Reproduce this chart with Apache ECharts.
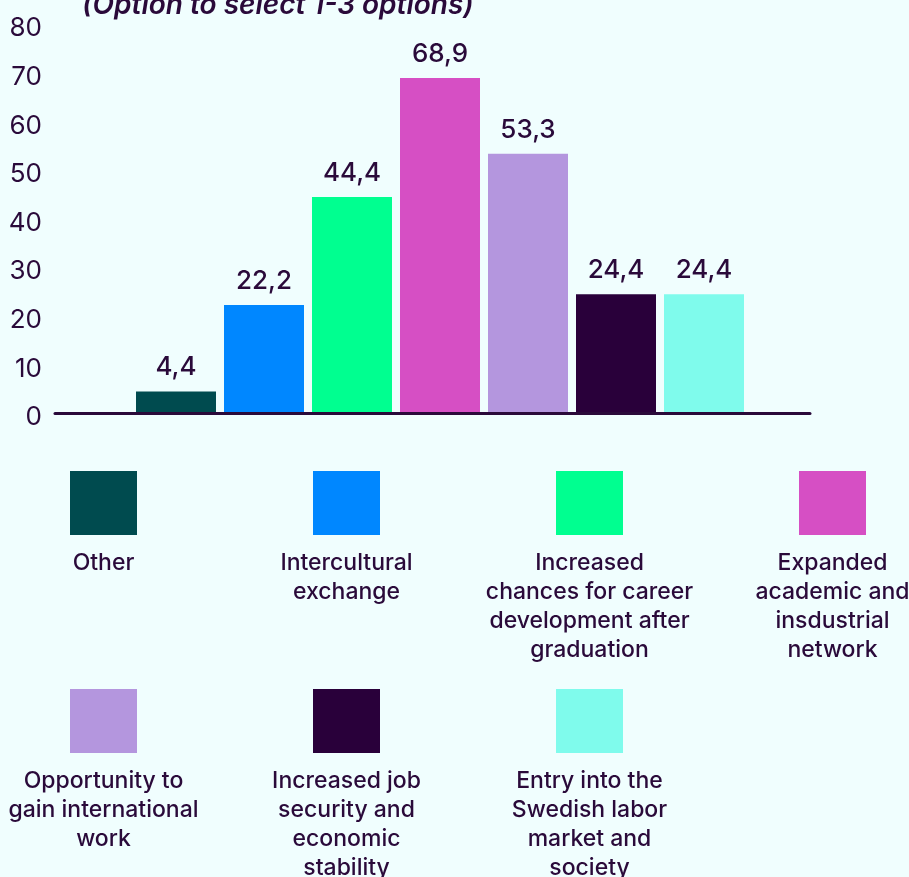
<!DOCTYPE html>
<html>
<head>
<meta charset="utf-8">
<title>Expected benefits</title>
<script src="https://cdn.jsdelivr.net/npm/echarts@6/dist/echarts.min.js"></script>
<style>
  html, body { margin: 0; padding: 0; background: #f0fefe; overflow: hidden; }
  #chart { position: absolute; left: -40px; top: -40px; width: 989px; height: 917px; }
</style>
</head>
<body>
<div id="chart"></div>
<script>
// Answer options (line breaks are where the legend wraps them)
const optionNames = [
  'Other',
  'Intercultural\nexchange',
  'Increased\nchances for career\ndevelopment after\ngraduation',
  'Expanded\nacademic and\ninsdustrial\nnetwork',
  'Opportunity to\ngain international\nwork',
  'Increased job\nsecurity and\neconomic\nstability',
  'Entry into the\nSwedish labor\nmarket and\nsociety'
];
// Share of respondents choosing each option (%)
const optionValues = [4.4, 22.2, 44.4, 68.9, 53.3, 24.4, 24.4];
const optionColors = ['#004b4f', '#0087ff', '#00ff90', '#d64fc4', '#b496de', '#29003a', '#7ffbec'];
// Value axis
const yMin = 0, yMax = 80, yStep = 10;
const subtitle = '(Option to select 1-3 options)';

const ink = '#2a0a3a';
const font = 'Inter, "Liberation Sans", sans-serif';

const chart = echarts.init(document.getElementById('chart'), null, { renderer: 'canvas' });

// Legend swatches sit above the centred label lines, via rich text
const rich = {
  t: { fontFamily: font, fontSize: 23, fontWeight: 500, color: ink, lineHeight: 29, width: 226, align: 'center' }
};
optionColors.forEach((c, i) => {
  rich['sq' + i] = { width: 67, height: 64, backgroundColor: c, lineHeight: 92, align: 'center' };
});

const legendFormatter = name => {
  const i = optionNames.indexOf(name);
  const lines = name.split('\n');
  while (lines.length < 4) lines.push(' ');
  return '{sq' + i + '|}\n' + lines.map(l => '{t|' + l + '}').join('\n');
};

const legendRow = (names, top) => ({
  data: names,
  selectedMode: false,
  left: 25.5,
  top: top,
  padding: 0,
  itemGap: 12,
  itemWidth: 0,
  itemHeight: 0,
  icon: 'rect',
  textStyle: { rich: rich },
  formatter: legendFormatter
});

const series = optionNames.map((name, i) => ({
  name: name,
  type: 'bar',
  xAxisIndex: 0,
  yAxisIndex: 0,
  data: [optionValues[i]],
  barWidth: 80,
  barGap: '10%',
  itemStyle: { color: optionColors[i] },
  label: {
    show: true,
    position: 'top',
    distance: 11,
    fontFamily: font,
    fontSize: 26,
    fontWeight: 500,
    color: ink,
    formatter: p => String(p.value).replace('.', ',')
  }
}));

chart.setOption({
  backgroundColor: '#f0fefe',
  animation: false,
  title: {
    text: subtitle,
    left: 122,
    top: 32,
    padding: 0,
    textStyle: { fontFamily: font, fontSize: 28, fontWeight: 600, fontStyle: 'italic', color: ink }
  },
  grid: [
    { left: 110, top: 64, width: 740, height: 389 },
    { left: 95, top: 64, width: 755, height: 389 }
  ],
  xAxis: [
    { type: 'category', gridIndex: 0, data: [''], axisLine: { show: false }, axisTick: { show: false }, axisLabel: { show: false } },
    { type: 'category', gridIndex: 1, data: [''], z: 10,
      axisLine: { show: true, lineStyle: { color: ink, width: 3 } }, axisTick: { show: false }, axisLabel: { show: false } }
  ],
  yAxis: [
    { type: 'value', gridIndex: 0, min: yMin, max: yMax, interval: yStep, show: false },
    { type: 'value', gridIndex: 1, min: yMin, max: yMax, interval: yStep,
      axisLine: { show: false }, axisTick: { show: false }, splitLine: { show: false },
      axisLabel: { margin: 13, fontFamily: font, fontSize: 26, color: ink, verticalAlign: 'top', lineHeight: 9 } }
  ],
  legend: [
    legendRow(optionNames.slice(0, 4), 511),
    legendRow(optionNames.slice(4), 729)
  ],
  series: series
});
</script>
</body>
</html>
